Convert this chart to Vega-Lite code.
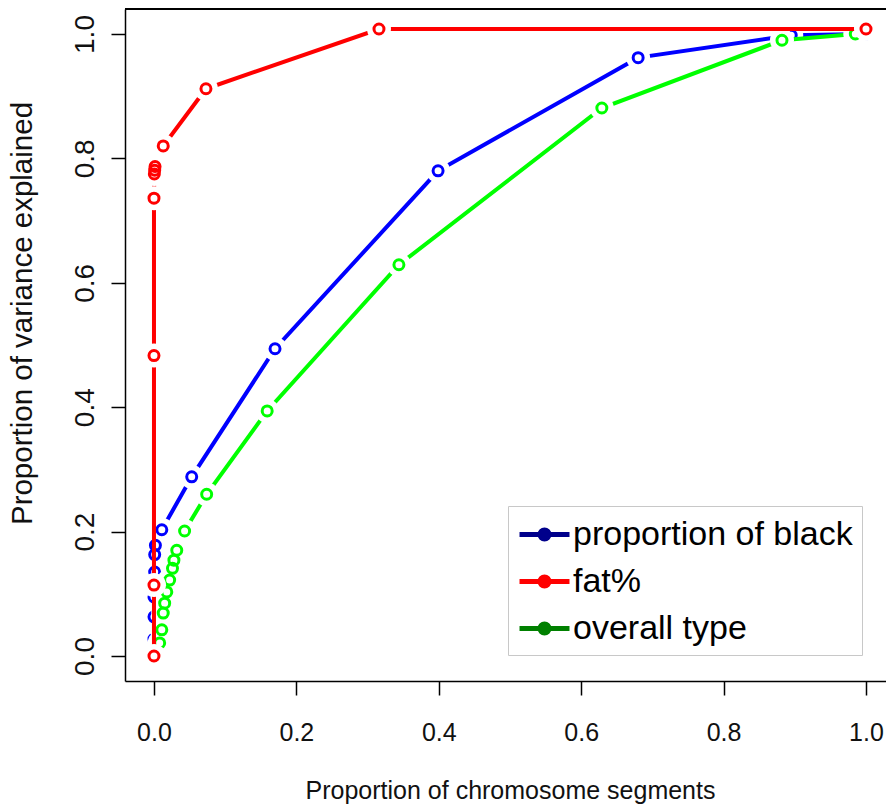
{
  "$schema": "https://vega.github.io/schema/vega-lite/v6.json",
  "width": 761,
  "height": 672,
  "autosize": {"type": "none"},
  "padding": {"left": 125, "top": 9, "right": 0, "bottom": 129},
  "background": "white",
  "config": {
    "view": {"stroke": null},
    "axis": {
      "domainColor": "black", "domainWidth": 1.5,
      "tickColor": "black", "tickWidth": 1.5, "tickSize": 14,
      "labelFont": "Liberation Sans", "labelFontSize": 25, "labelColor": "#111111",
      "titleFont": "Liberation Sans", "titleFontSize": 25, "titleFontWeight": "normal", "titleColor": "#111111",
      "grid": false, "labelFlush": false
    }
  },
  "data": {
    "values": [
      {"series": "proportion of black", "i": 0, "x": 0.0, "y": 0.0},
      {"series": "proportion of black", "i": 1, "x": 0.0, "y": 0.027},
      {"series": "proportion of black", "i": 2, "x": 0.0, "y": 0.063},
      {"series": "proportion of black", "i": 3, "x": 0.0, "y": 0.095},
      {"series": "proportion of black", "i": 4, "x": 0.001, "y": 0.135},
      {"series": "proportion of black", "i": 5, "x": 0.001, "y": 0.163},
      {"series": "proportion of black", "i": 6, "x": 0.002, "y": 0.178},
      {"series": "proportion of black", "i": 7, "x": 0.011, "y": 0.203},
      {"series": "proportion of black", "i": 8, "x": 0.053, "y": 0.288},
      {"series": "proportion of black", "i": 9, "x": 0.170, "y": 0.494},
      {"series": "proportion of black", "i": 10, "x": 0.399, "y": 0.780},
      {"series": "proportion of black", "i": 11, "x": 0.680, "y": 0.962},
      {"series": "proportion of black", "i": 12, "x": 0.895, "y": 0.998},
      {"series": "proportion of black", "i": 13, "x": 1.0, "y": 1.0},
      {"series": "overall type", "i": 0, "x": 0.0, "y": 0.0},
      {"series": "overall type", "i": 1, "x": 0.008, "y": 0.021},
      {"series": "overall type", "i": 2, "x": 0.011, "y": 0.042},
      {"series": "overall type", "i": 3, "x": 0.013, "y": 0.069},
      {"series": "overall type", "i": 4, "x": 0.015, "y": 0.085},
      {"series": "overall type", "i": 5, "x": 0.018, "y": 0.103},
      {"series": "overall type", "i": 6, "x": 0.022, "y": 0.122},
      {"series": "overall type", "i": 7, "x": 0.026, "y": 0.141},
      {"series": "overall type", "i": 8, "x": 0.028, "y": 0.154},
      {"series": "overall type", "i": 9, "x": 0.032, "y": 0.170},
      {"series": "overall type", "i": 10, "x": 0.043, "y": 0.201},
      {"series": "overall type", "i": 11, "x": 0.074, "y": 0.260},
      {"series": "overall type", "i": 12, "x": 0.159, "y": 0.394},
      {"series": "overall type", "i": 13, "x": 0.344, "y": 0.629},
      {"series": "overall type", "i": 14, "x": 0.629, "y": 0.881},
      {"series": "overall type", "i": 15, "x": 0.882, "y": 0.990},
      {"series": "overall type", "i": 16, "x": 0.985, "y": 1.0},
      {"series": "fat%", "i": 0, "x": 0.0, "y": 0.0},
      {"series": "fat%", "i": 1, "x": 0.0, "y": 0.114},
      {"series": "fat%", "i": 2, "x": 0.0, "y": 0.483},
      {"series": "fat%", "i": 3, "x": 0.0, "y": 0.736},
      {"series": "fat%", "i": 4, "x": 0.0005, "y": 0.775},
      {"series": "fat%", "i": 5, "x": 0.001, "y": 0.781},
      {"series": "fat%", "i": 6, "x": 0.0015, "y": 0.787},
      {"series": "fat%", "i": 7, "x": 0.013, "y": 0.820},
      {"series": "fat%", "i": 8, "x": 0.073, "y": 0.912},
      {"series": "fat%", "i": 9, "x": 0.316, "y": 1.008},
      {"series": "fat%", "i": 10, "x": 1.0, "y": 1.008}
    ]
  },
  "encoding": {
    "x": {
      "field": "x", "type": "quantitative",
      "scale": {"domain": [-0.0407, 1.0281], "nice": false, "zero": false},
      "axis": {
        "values": [0, 0.2, 0.4, 0.6, 0.8, 1.0], "format": ".1f",
        "labelBaseline": "middle", "labelPadding": 37,
        "title": "Proportion of chromosome segments",
        "titleX": 385, "titleY": 117, "titleAlign": "center", "titleBaseline": "alphabetic"
      }
    },
    "y": {
      "field": "y", "type": "quantitative",
      "scale": {"domain": [-0.0402, 1.0402], "nice": false, "zero": false},
      "axis": {
        "values": [0, 0.2, 0.4, 0.6, 0.8, 1.0], "format": ".1f",
        "labelAngle": 270, "labelAlign": "center", "labelBaseline": "middle", "labelPadding": 26,
        "labelFontSize": 28,
        "title": "Proportion of variance explained", "titleFontSize": 29.5,
        "titleX": -103, "titleY": 304, "titleAngle": 270, "titleAlign": "center", "titleBaseline": "middle"
      }
    }
  },
  "layer": [
    {
      "mark": {"type": "rule", "color": "black", "strokeWidth": 1.5},
      "encoding": {"x": null, "y": {"datum": 1.0402}}
    },
    {
      "mark": {"type": "line", "strokeWidth": 4, "strokeOpacity": 0},
      "encoding": {
        "order": {"field": "i"},
        "color": {
          "field": "series", "type": "nominal",
          "scale": {"domain": ["proportion of black", "fat%", "overall type"], "range": ["#00008B", "#FF0000", "#008000"]},
          "legend": {
            "title": null, "orient": "none", "legendX": 383, "legendY": 497,
            "labelFont": "Liberation Sans", "labelFontSize": 34, "labelColor": "black", "labelLimit": 500,
            "symbolType": "M-1.47,0H1.47M-0.265,0a0.265,0.265 0 1,0 0.53,0a0.265,0.265 0 1,0 -0.53,0M-0.118,0a0.118,0.118 0 1,0 0.236,0a0.118,0.118 0 1,0 -0.236,0",
            "symbolSize": 1156, "symbolStrokeWidth": 5, "symbolOpacity": 1, "symbolOffset": 8,
            "strokeColor": "#c8c8c8", "fillColor": "white", "padding": 9,
            "rowPadding": 10, "labelOffset": 9
          }
        }
      }
    },
    {
      "transform": [{"filter": "datum.series === 'proportion of black'"}],
      "layer": [
        {"mark": {"type": "line", "strokeWidth": 4}, "encoding": {"order": {"field": "i"}, "stroke": {"field": "series", "type": "nominal", "scale": {"domain": ["proportion of black", "fat%", "overall type"], "range": ["#0000FF", "#FF0000", "#00FF00"]}, "legend": null}}},
        {"mark": {"type": "circle", "color": "white", "size": 576, "opacity": 1}},
        {"mark": {"type": "point", "filled": false, "size": 100, "strokeWidth": 3, "opacity": 1}, "encoding": {"stroke": {"field": "series", "type": "nominal", "legend": null}}}
      ]
    },
    {
      "transform": [{"filter": "datum.series === 'overall type'"}],
      "layer": [
        {"mark": {"type": "line", "strokeWidth": 4}, "encoding": {"order": {"field": "i"}, "stroke": {"field": "series", "type": "nominal", "legend": null}}},
        {"mark": {"type": "circle", "color": "white", "size": 576, "opacity": 1}},
        {"mark": {"type": "point", "filled": false, "size": 100, "strokeWidth": 3, "opacity": 1}, "encoding": {"stroke": {"field": "series", "type": "nominal", "legend": null}}}
      ]
    },
    {
      "transform": [{"filter": "datum.series === 'fat%'"}],
      "layer": [
        {"mark": {"type": "line", "strokeWidth": 4}, "encoding": {"order": {"field": "i"}, "stroke": {"field": "series", "type": "nominal", "legend": null}}},
        {"mark": {"type": "circle", "color": "white", "size": 576, "opacity": 1}},
        {"mark": {"type": "point", "filled": false, "size": 100, "strokeWidth": 3, "opacity": 1}, "encoding": {"stroke": {"field": "series", "type": "nominal", "legend": null}}}
      ]
    }
  ]
}
